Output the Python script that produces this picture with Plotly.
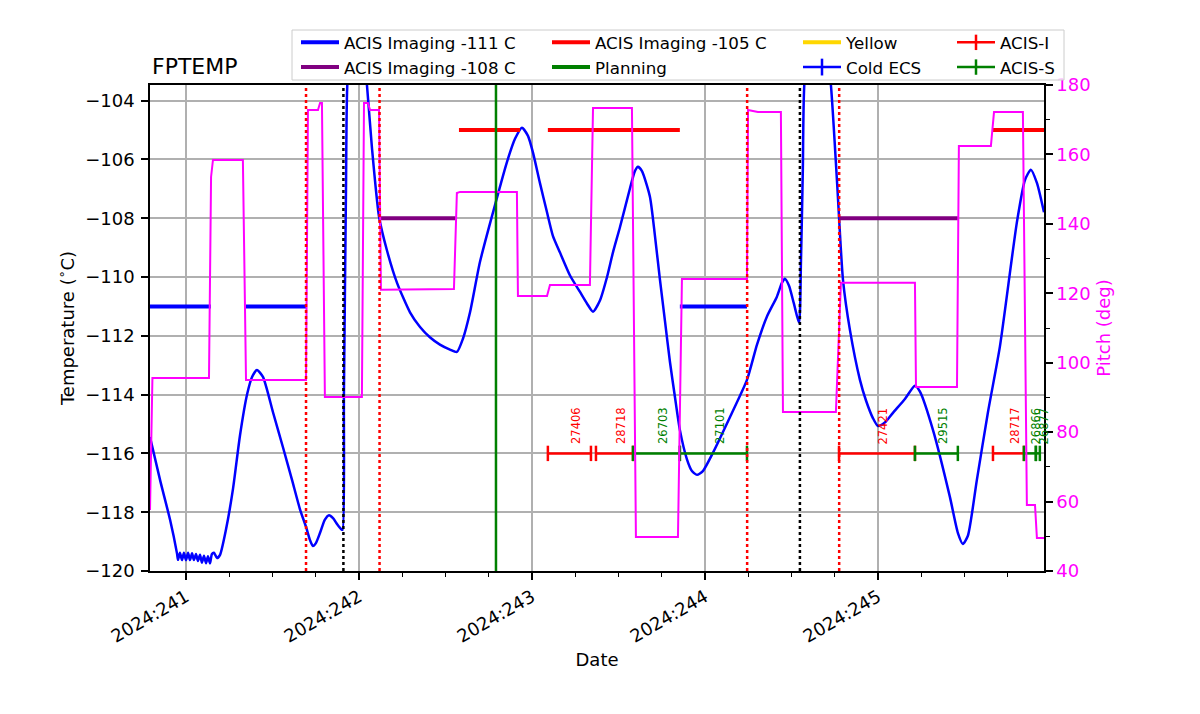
import plotly.graph_objects as go

# ---------------- data ----------------
temp_day = [240.792, 240.850, 240.908, 240.948,
            240.954, 240.965, 240.977, 240.988, 241.000, 241.012, 241.023, 241.035,
            241.046, 241.058, 241.069, 241.081, 241.092, 241.104, 241.116, 241.127,
            241.139, 241.150, 241.162, 241.179, 241.197, 241.231, 241.272, 241.312,
            241.353, 241.382, 241.410, 241.445, 241.503, 241.561, 241.613, 241.659,
            241.694, 241.717, 241.734, 241.751, 241.775, 241.803, 241.827, 241.850,
            241.873, 241.896, 241.905, 241.913, 241.925, 241.933, 241.977, 242.017,
            242.046, 242.075, 242.116, 242.162, 242.220, 242.295, 242.353, 242.410,
            242.468, 242.526, 242.566, 242.601, 242.642, 242.699, 242.775, 242.855,
            242.902, 242.942, 242.977, 243.006, 243.046, 243.087, 243.121, 243.162,
            243.220, 243.277, 243.318, 243.353, 243.393, 243.434, 243.468, 243.509,
            243.566, 243.595, 243.613, 243.636, 243.682, 243.711, 243.740, 243.769,
            243.798, 243.827, 243.855, 243.896, 243.925, 243.954, 243.988, 244.046,
            244.145, 244.243, 244.301, 244.358, 244.416, 244.445, 244.462, 244.486,
            244.514, 244.544, 244.555, 244.566, 244.575, 244.636, 244.694, 244.728,
            244.763, 244.798, 244.838, 244.896, 244.931, 244.971, 245.000, 245.040,
            245.087, 245.156, 245.214, 245.243, 245.318, 245.416, 245.462, 245.491,
            245.520, 245.572, 245.636, 245.705, 245.803, 245.850, 245.884, 245.919,
            245.960]
temp_val = [-115.44, -116.9, -118.26, -119.4,
            -119.62, -119.38, -119.63, -119.38, -119.63, -119.38, -119.63, -119.40,
            -119.63, -119.42, -119.66, -119.45, -119.72, -119.48, -119.74, -119.50,
            -119.74, -119.42, -119.38, -119.56, -119.45, -118.6, -117.2, -115.4,
            -114.0, -113.4, -113.16, -113.4, -114.6, -115.8, -116.9, -117.9,
            -118.5, -118.95, -119.15, -119.05, -118.7, -118.25, -118.1, -118.2,
            -118.4, -118.57, -118.6, -114.0, -107.0, -103.4, -100.6, -101.8,
            -103.46, -105.6, -107.95, -109.1, -110.2, -111.2, -111.7, -112.05,
            -112.3, -112.47, -112.55, -112.1, -111.2, -109.5, -107.8, -106.1,
            -105.3, -104.92, -105.2, -105.77, -106.8, -107.8, -108.6, -109.17,
            -109.95, -110.5, -110.9, -111.18, -110.8, -110.0, -109.17, -108.3,
            -107.0, -106.4, -106.25, -106.4, -107.27, -108.6, -110.1, -111.5,
            -112.9, -114.1, -115.2, -116.2, -116.6, -116.73, -116.6, -115.98,
            -114.76, -113.5, -112.3, -111.35, -110.67, -110.2, -110.06, -110.3,
            -110.9, -111.56, -109.5, -106.3, -103.4, -100.6, -101.8, -103.46,
            -106.7, -110.1, -111.8, -113.5, -114.2, -114.8, -115.07, -114.95,
            -114.62, -114.15, -113.7, -113.9, -115.2, -117.48, -118.7, -119.08,
            -118.8, -116.9, -114.6, -112.37, -108.15, -106.7, -106.35, -106.8,
            -107.8]

pitch_day = [240.792, 240.806, 241.133, 241.145, 241.156, 241.329, 241.347, 241.694,
             241.705, 241.763, 241.775, 241.786, 241.803, 242.017, 242.029, 242.052,
             242.064, 242.116, 242.127, 242.549, 242.566, 242.584, 242.913, 242.919,
             243.087, 243.104, 243.335, 243.353, 243.578, 243.601, 243.844, 243.867,
             244.243, 244.249, 244.306, 244.439, 244.451, 244.757, 244.786, 245.214,
             245.220, 245.457, 245.468, 245.653, 245.671, 245.838, 245.861, 245.908,
             245.919, 245.960]
pitch_val = [57.6, 95.6, 95.6, 153.5, 158.4, 158.4, 95.0, 95.0,
             172.8, 172.8, 174.8, 174.8, 90.1, 90.1, 174.8, 174.8,
             172.8, 172.8, 121.0, 121.2, 148.9, 149.2, 149.2, 119.2,
             119.2, 122.4, 122.4, 173.4, 173.4, 49.8, 49.8, 124.1,
             124.1, 172.8, 172.2, 172.2, 85.8, 85.8, 123.0, 123.0,
             93.0, 93.0, 162.4, 162.4, 172.2, 172.2, 59.0, 59.0,
             49.5, 49.5]

# limit lines (start, stop) in day-of-year
lim111_start = [240.792, 241.347, 243.855]
lim111_stop = [241.144, 241.694, 244.243]
lim108_start = [242.121, 244.775]
lim108_stop = [242.560, 245.462]
lim105_start = [242.578, 243.092, 245.665]
lim105_stop = [242.931, 243.855, 245.960]

# observations
obsid_ids = ["27406", "28718", "26703", "27101", "27421", "29515", "28717", "26866", "26877"]
obsid_start = [243.092, 243.370, 243.584, 243.855, 244.775, 245.214, 245.665, 245.844, 245.913]
obsid_stop = [243.341, 243.584, 243.855, 244.243, 245.214, 245.462, 245.844, 245.913, 245.936]
obsid_instr = ["ACIS-I", "ACIS-I", "ACIS-S", "ACIS-S", "ACIS-I", "ACIS-S", "ACIS-I", "ACIS-S", "ACIS-S"]
obsid_level = -116.0
label_level = -115.75

# vertical markers
red_dotted_days = [241.694, 242.119, 244.244, 244.776]
black_dotted_days = [241.910, 244.549]
green_solid_days = [242.792]

major_days = [241, 242, 243, 244, 245]
major_labels = ["2024:241", "2024:242", "2024:243", "2024:244", "2024:245"]
minor_days = [240.75 + 0.25 * i for i in range(22) if (240.75 + 0.25 * i) % 1 != 0]
temp_ticks = [-120, -118, -116, -114, -112, -110, -108, -106, -104]
pitch_ticks = [40, 60, 80, 100, 120, 140, 160, 180]

# ---------------- figure ----------------
FONT = "DejaVu Sans"
# page body has an 8px margin; plot area aims at 150..1044 x 85..571 on screen
OFF = 8
PL, PR, PT, PB = 150, 1044, 85, 571
PW, PH = PR - PL, PB - PT

fig = go.Figure()

fig.add_trace(go.Scatter(x=temp_day, y=temp_val, mode="lines",
                         line=dict(color="blue", width=2.5, shape="spline", smoothing=0.6),
                         showlegend=False, hoverinfo="skip"))


def seg(starts, stops, y):
    xs, ys = [], []
    for a, b in zip(starts, stops):
        xs += [a, b, None]
        ys += [y, y, None]
    return xs, ys


lx, ly = seg(lim111_start, lim111_stop, -111)
fig.add_trace(go.Scatter(x=lx, y=ly, mode="lines", line=dict(color="blue", width=4),
                         name="ACIS Imaging -111 C", legend="legend", legendgroup="a"))
lx, ly = seg(lim108_start, lim108_stop, -108)
fig.add_trace(go.Scatter(x=lx, y=ly, mode="lines", line=dict(color="purple", width=4),
                         name="ACIS Imaging -108 C", legend="legend", legendgroup="b"))
lx, ly = seg(lim105_start, lim105_stop, -105)
fig.add_trace(go.Scatter(x=lx, y=ly, mode="lines", line=dict(color="red", width=4),
                         name="ACIS Imaging -105 C", legend="legend2", legendgroup="c"))
fig.add_trace(go.Scatter(x=[None], y=[None], mode="lines", line=dict(color="green", width=4),
                         name="Planning", legend="legend2", legendgroup="d"))
fig.add_trace(go.Scatter(x=[None], y=[None], mode="lines", line=dict(color="gold", width=4),
                         name="Yellow", legend="legend3", legendgroup="e"))
fig.add_trace(go.Scatter(x=[None], y=[None], mode="lines+markers",
                         line=dict(color="blue", width=2.5),
                         marker=dict(symbol="line-ns", size=12, line=dict(color="blue", width=2.5)),
                         name="Cold ECS", legend="legend3", legendgroup="f"))

shown = set()
for oid, a, b, ins in zip(obsid_ids, obsid_start, obsid_stop, obsid_instr):
    col = "red" if ins == "ACIS-I" else "green"
    leg = ins not in shown
    shown.add(ins)
    fig.add_trace(go.Scatter(
        x=[a, b], y=[obsid_level, obsid_level], mode="lines+markers",
        line=dict(color=col, width=2.5),
        marker=dict(symbol="line-ns", size=11, line=dict(color=col, width=2.5), color=col),
        name=ins, legend="legend4", legendgroup=ins, showlegend=leg, hoverinfo="skip"))
    fig.add_annotation(x=(a + b) / 2, y=label_level, xref="x", yref="y", text=oid,
                       textangle=-90, showarrow=False, xanchor="left", yanchor="bottom",
                       xshift=-3, font=dict(family=FONT, size=11.5, color=col))

fig.add_trace(go.Scatter(x=pitch_day, y=pitch_val, mode="lines", yaxis="y2",
                         line=dict(color="magenta", width=2), showlegend=False,
                         hoverinfo="skip"))

for d in red_dotted_days:
    fig.add_vline(x=d, line=dict(color="red", width=2.5, dash="dot"), layer="above")
for d in black_dotted_days:
    fig.add_vline(x=d, line=dict(color="black", width=2.5, dash="dot"), layer="above")
for d in green_solid_days:
    fig.add_vline(x=d, line=dict(color="green", width=2.5), layer="above")


def px_x(p):
    return (p - PL) / PW


def px_y(p):
    return (PB - p) / PH


# legend frame
fig.add_shape(type="rect", xref="paper", yref="paper",
              x0=px_x(292), x1=px_x(1064), y0=px_y(80), y1=px_y(30),
              line=dict(color="#cccccc", width=1), fillcolor="rgba(255,255,255,0.8)",
              layer="above")

leg_common = dict(orientation="v", yanchor="top", xanchor="left",
                  font=dict(family=FONT, size=16.7, color="black"),
                  bgcolor="rgba(0,0,0,0)", borderwidth=0, tracegroupgap=0,
                  itemwidth=38)
legy = px_y(25)
fig.update_layout(
    legend=dict(x=px_x(296), y=legy, **leg_common),
    legend2=dict(x=px_x(547), y=legy, **leg_common),
    legend3=dict(x=px_x(798), y=legy, **leg_common),
    legend4=dict(x=px_x(952), y=legy, **leg_common),
)

fig.add_annotation(x=0, y=1, xref="paper", yref="paper", text="FPTEMP", showarrow=False,
                   xanchor="left", yanchor="bottom", yshift=4,
                   font=dict(family=FONT, size=22, color="black"))

fig.update_layout(
    width=1200, height=714,
    margin=dict(l=PL - OFF, r=1200 - (PR - OFF), t=PT - OFF, b=714 - (PB - OFF),
                autoexpand=False),
    paper_bgcolor="white", plot_bgcolor="white",
    font=dict(family=FONT, size=18, color="black"),
    xaxis=dict(range=[240.792, 245.960], tickmode="array", tickvals=major_days,
               ticktext=major_labels, tickangle=-30, ticks="outside", ticklen=7,
               tickwidth=1.5, tickcolor="black", showline=True, linecolor="black",
               linewidth=1.5, mirror=True, showgrid=True, gridcolor="#b0b0b0",
               gridwidth=1.5, zeroline=False,
               tickfont=dict(family=FONT, size=18),
               minor=dict(tickmode="array", tickvals=minor_days, ticks="outside",
                          ticklen=4, tickwidth=1.2, tickcolor="black", showgrid=False),
               title=dict(text="Date", font=dict(family=FONT, size=18), standoff=8)),
    yaxis=dict(range=[-120, -103.47], tickmode="array", tickvals=temp_ticks,
               ticktext=["\u2212" + str(abs(v)) for v in temp_ticks],
               ticks="outside", ticklen=7, tickwidth=1.5, tickcolor="black",
               showline=True, linecolor="black", linewidth=1.5, ticklabelstandoff=3,
               showgrid=True, gridcolor="#b0b0b0", gridwidth=1.5, zeroline=False,
               tickfont=dict(family=FONT, size=18),
               title=dict(text="Temperature (<sup>\u2218</sup>C)",
                          font=dict(family=FONT, size=18), standoff=6)),
    yaxis2=dict(range=[40, 180], overlaying="y", side="right", tickmode="array",
                tickvals=pitch_ticks, ticks="outside", ticklen=7, tickwidth=1.5,
                tickcolor="black", showline=True, linecolor="black", linewidth=1.5,
                showgrid=False, zeroline=False,
                tickfont=dict(family=FONT, size=18, color="magenta"),
                minor=dict(tickmode="array", tickvals=[50, 70, 90, 110, 130, 150, 170],
                           ticks="outside", ticklen=4, tickwidth=1.2, tickcolor="black"),
                title=dict(text="Pitch (deg)", font=dict(family=FONT, size=18, color="magenta"),
                           standoff=8)),
)

fig.write_html("out.html")
